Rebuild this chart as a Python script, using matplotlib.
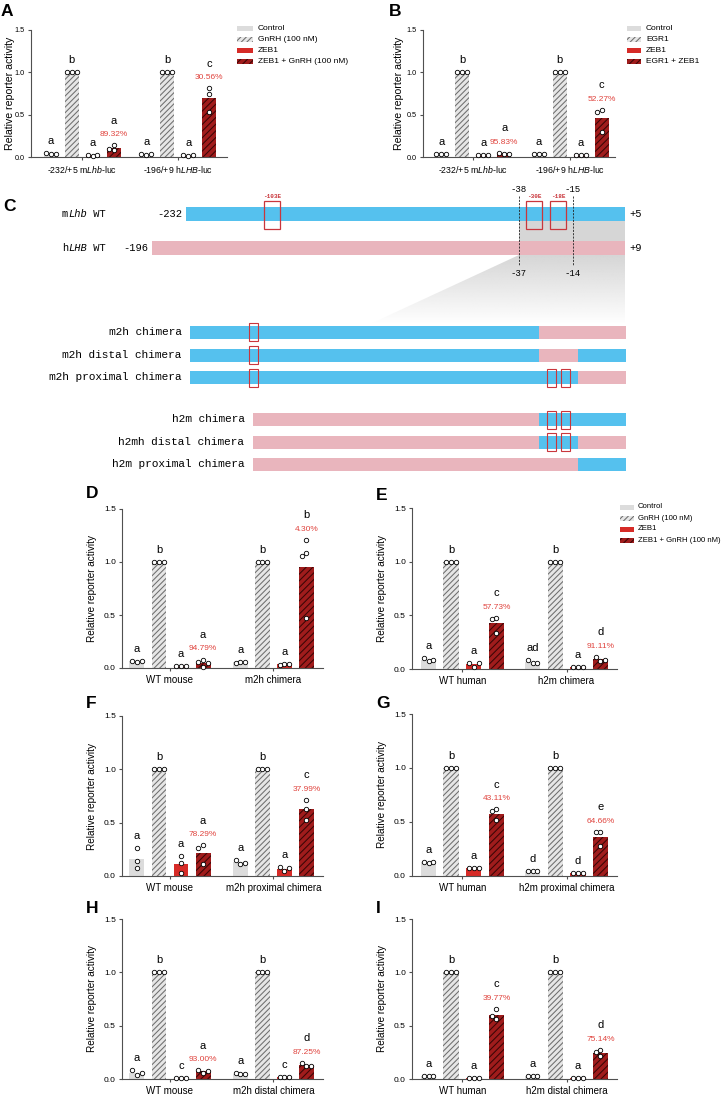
import numpy as np
import matplotlib
matplotlib.use("Agg")
import matplotlib.pyplot as plt
from matplotlib.patches import Rectangle, Polygon
from matplotlib.transforms import offset_copy
from matplotlib.colors import to_rgb

plt.rcParams['font.family'] = ['Liberation Sans', 'DejaVu Sans']
plt.rcParams['mathtext.fontset'] = 'custom'
plt.rcParams['mathtext.rm'] = 'Liberation Sans'
plt.rcParams['mathtext.it'] = 'Liberation Sans:italic'
plt.rcParams['hatch.linewidth'] = 0.75

W, H, DPI = 725, 1097, 100

# ---------------- data ----------------
treat_gnrh = ['Control', 'GnRH (100 nM)', 'ZEB1', 'ZEB1 + GnRH (100 nM)']
treat_egr = ['Control', 'EGR1', 'ZEB1', 'EGR1 + ZEB1']

# A
groups_a = [r'-232/+5 m$\mathit{Lhb}$-luc', r'-196/+9 h$\mathit{LHB}$-luc']
points_a = [[[0.03, 0.05, 0.04], [1, 1, 1], [0.015, 0.02, 0.02], [0.08, 0.14, 0.10]],
            [[0.02, 0.04, 0.04], [1, 1, 1], [0.01, 0.02, 0.02], [0.81, 0.74, 0.53]]]
letters_a = [['a', 'b', 'a', 'a'], ['a', 'b', 'a', 'c']]
pct_a = ['89.32%', '30.56%']

# B
groups_b = groups_a
points_b = [[[0.03, 0.03, 0.03], [1, 1, 1], [0.02, 0.02, 0.02], [0.04, 0.05, 0.04]],
            [[0.03, 0.03, 0.03], [1, 1, 1], [0.02, 0.02, 0.02], [0.56, 0.53, 0.30]]]
letters_b = [['a', 'b', 'a', 'a'], ['a', 'b', 'a', 'c']]
pct_b = ['95.83%', '52.27%']

# D
groups_d = ['WT mouse', 'm2h chimera']
points_d = [[[0.06, 0.065, 0.065], [1, 1, 1], [0.015, 0.015, 0.015], [0.08, 0.06, 0.045, 0.01]],
            [[0.054, 0.05, 0.056], [1, 1, 1], [0.035, 0.03, 0.035], [1.21, 1.085, 1.057, 0.467]]]
letters_d = [['a', 'b', 'a', 'a'], ['a', 'b', 'a', 'b']]
pct_d = ['94.79%', '4.30%']

# E
groups_e = ['WT human', 'h2m chimera']
points_e = [[[0.07, 0.10, 0.085], [1, 1, 1], [0.02, 0.06, 0.06], [0.475, 0.465, 0.335]],
            [[0.053, 0.085, 0.053], [1, 1, 1], [0.015, 0.02, 0.02], [0.078, 0.115, 0.085]]]
letters_e = [['a', 'b', 'a', 'c'], ['ad', 'b', 'a', 'd']]
pct_e = ['57.73%', '91.11%']

# F
groups_f = ['WT mouse', 'm2h proximal chimera']
points_f = [[[0.26, 0.14, 0.078], [1, 1, 1], [0.184, 0.122, 0.03], [0.29, 0.26, 0.11]],
            [[0.11, 0.15, 0.12], [1, 1, 1], [0.05, 0.08, 0.075], [0.716, 0.63, 0.528]]]
letters_f = [['a', 'b', 'a', 'a'], ['a', 'b', 'a', 'c']]
pct_f = ['78.29%', '37.99%']

# G
groups_g = ['WT human', 'h2m proximal chimera']
points_g = [[[0.12, 0.13, 0.13], [1, 1, 1], [0.078, 0.078, 0.078], [0.616, 0.60, 0.52]],
            [[0.047, 0.047, 0.047], [1, 1, 1], [0.028, 0.028, 0.028], [0.41, 0.403, 0.278]]]
letters_g = [['a', 'b', 'a', 'c'], ['d', 'b', 'd', 'e']]
pct_g = ['43.11%', '64.66%']

# H
groups_h = ['WT mouse', 'm2h distal chimera']
points_h = [[[0.04, 0.08, 0.06], [1, 1, 1], [0.01, 0.01, 0.01], [0.056, 0.08, 0.078]],
            [[0.047, 0.056, 0.047], [1, 1, 1], [0.016, 0.016, 0.016], [0.125, 0.15, 0.12]]]
letters_h = [['a', 'b', 'c', 'a'], ['a', 'b', 'c', 'd']]
pct_h = ['93.00%', '87.25%']

# I
groups_i = ['WT human', 'h2m distal chimera']
points_i = [[[0.025, 0.025, 0.025], [1, 1, 1], [0.01, 0.01, 0.01], [0.656, 0.5625, 0.594]],
            [[0.025, 0.025, 0.025], [1, 1, 1], [0.005, 0.005, 0.005], [0.275, 0.22, 0.25]]]
letters_i = [['a', 'b', 'a', 'c'], ['a', 'b', 'a', 'd']]
pct_i = ['39.77%', '75.14%']

# C schematic
wt_names = [[('m', False), ('Lhb', True), (' WT', False)],
            [('h', False), ('LHB', True), (' WT', False)]]
wt_start = ['-232', '-196']
wt_end = ['+5', '+9']
junction_top = ['-38', '-15']
junction_bot = ['-37', '-14']
ebox_names = ['-103E', '-30E', '-18E']
chimera_names = ['m2h chimera', 'm2h distal chimera', 'm2h proximal chimera',
                 'h2m chimera', 'h2mh distal chimera', 'h2m proximal chimera']
chimera_segments = [['m', 'h', 'h'], ['m', 'h', 'm'], ['m', 'm', 'h'],
                    ['h', 'm', 'm'], ['h', 'm', 'h'], ['h', 'h', 'm']]

# ---------------- styles ----------------
styles = [
    dict(facecolor='#dcdcdc', edgecolor='#dcdcdc', linewidth=0),
    dict(facecolor='#e6e6e6', edgecolor='#6e6e6e', hatch='//////', linewidth=0),
    dict(facecolor='#d62b27', edgecolor='#d62b27', linewidth=0),
    dict(facecolor='#a01c1c', edgecolor='#3a0606', hatch='/////', linewidth=0),
]
PCT_RED = '#e0443e'
AXC = '#505050'

fig = plt.figure(figsize=(W / DPI, H / DPI), dpi=DPI)


def px_axes(x0, y0, x1, y1):
    return fig.add_axes([x0 / W, 1 - y1 / H, (x1 - x0) / W, (y1 - y0) / H])


def swarm(vals, xpx, ypx, diam=4.4):
    step = 4.8 / xpx
    placed = []
    for v in vals:
        for k in [0, -1, 1, -2, 2]:
            if all(np.hypot((k * step - o) * xpx, (v - pv) * ypx) >= diam for o, pv in placed):
                break
        placed.append((k * step, v))
    return np.array([p[0] for p in placed])


def bar_panel(ax, points, letters, pcts, groups, xlim, g_off, lab_cx,
              tick_fs=6, group_fs=7, ylab_fs=7.2):
    ax.set_xlim(*xlim)
    ax.set_ylim(0, 1.5)
    pos = ax.get_position()
    wpx, hpx = pos.width * W, pos.height * H
    xpx = wpx / (xlim[1] - xlim[0])
    ypx = hpx / 1.5
    for gi, grp in enumerate(points):
        for ti, vals in enumerate(grp):
            x = gi * g_off + ti
            vals = np.array(vals, dtype=float)
            m = vals.mean()
            ax.bar(x, m, width=0.68, zorder=2, **styles[ti])
            offs = swarm(vals, xpx, ypx)
            ax.plot(x + offs, vals, 'o', ms=3.2, mfc='white', mec='black', mew=0.6,
                    zorder=3, clip_on=False)
            top = max(vals.max(), m)
            if ti == 3:
                ax.annotate(pcts[gi], (x, top), xytext=(0, 6.5), textcoords='offset points',
                            ha='center', va='baseline', fontsize=6, color=PCT_RED)
                ax.annotate(letters[gi][ti], (x, top), xytext=(0, 15.5), textcoords='offset points',
                            ha='center', va='baseline', fontsize=8)
            else:
                ax.annotate(letters[gi][ti], (x, top), xytext=(0, 6.5), textcoords='offset points',
                            ha='center', va='baseline', fontsize=8)
    for s in ['top', 'right']:
        ax.spines[s].set_visible(False)
    for s in ['left', 'bottom']:
        ax.spines[s].set_color(AXC)
        ax.spines[s].set_linewidth(0.8)
    ax.set_yticks([0, 0.5, 1.0, 1.5])
    ax.set_yticklabels(['0.0', '0.5', '1.0', '1.5'])
    ax.set_xticks([1.5, g_off + 1.5])
    ax.set_xticklabels(groups)
    ax.tick_params(axis='y', length=2.5, width=0.8, color=AXC, labelsize=tick_fs, pad=2)
    ax.tick_params(axis='x', length=2.5, width=0.8, color=AXC, labelsize=group_fs, pad=2.5)
    ax.set_ylabel('Relative reporter activity', fontsize=ylab_fs)
    x0 = pos.x0 * W
    ax.yaxis.set_label_coords((lab_cx + 5 - x0) / wpx, 0.5)


# ---------------- bar panels ----------------
ax_a = px_axes(31, 30, 227, 157)
bar_panel(ax_a, points_a, letters_a, pct_a, groups_a, (-0.94, 8.4), 4.55, 10,
          tick_fs=5.2, group_fs=6.3, ylab_fs=7.6)
ax_b = px_axes(423, 30, 615, 157)
bar_panel(ax_b, points_b, letters_b, pct_b, groups_b, (-0.87, 8.27), 4.64, 399,
          tick_fs=5.2, group_fs=6.3, ylab_fs=7.6)

ax_d = px_axes(122, 509, 323, 668)
bar_panel(ax_d, points_d, letters_d, pct_d, groups_d, (-0.68, 8.45), 4.7, 92)
ax_e = px_axes(412, 508, 617, 669)
bar_panel(ax_e, points_e, letters_e, pct_e, groups_e, (-0.73, 8.33), 4.6, 382)
ax_f = px_axes(122, 716, 323, 876)
bar_panel(ax_f, points_f, letters_f, pct_f, groups_f, (-0.68, 8.45), 4.7, 92)
ax_g = px_axes(412, 714, 617, 876)
bar_panel(ax_g, points_g, letters_g, pct_g, groups_g, (-0.73, 8.33), 4.6, 382)
ax_h = px_axes(122, 919, 323, 1079)
bar_panel(ax_h, points_h, letters_h, pct_h, groups_h, (-0.68, 8.45), 4.7, 92)
ax_i = px_axes(412, 919, 617, 1079)
bar_panel(ax_i, points_i, letters_i, pct_i, groups_i, (-0.73, 8.33), 4.6, 382)

# ---------------- overlay (schematic, legends, labels) ----------------
ov = fig.add_axes([0, 0, 1, 1], zorder=-1)
ov.axis('off')


def legend(x, y0, dy, pw, labels, fs=6, gap=5):
    for i, lab in enumerate(labels):
        y = y0 + i * dy
        ov.add_patch(Rectangle((x, y - 2.5), pw, 5, **styles[i]))
        ov.text(x + pw + gap, y, lab, va='center', ha='left', fontsize=fs)


legend(237, 28, 11.3, 16, treat_gnrh)
legend(627, 28, 11.3, 14, treat_egr)
legend(620, 507, 11, 14, treat_gnrh, fs=5.6, gap=4)

for lab, (x, y) in zip('ABCDEFGHI', [(1, 4), (389, 4), (3, 199), (86, 486), (376, 488),
                                      (86, 696), (376, 696), (86, 901), (376, 901)]):
    ov.text(x, y, lab, fontsize=12.5, fontweight='bold', va='top', ha='left')

BLUE = '#55c1ee'
PINK = '#e9b5bd'
BOXRED = '#c9363c'
SHADE = '#d6d6d6'
seg_color = {'m': BLUE, 'h': PINK}
MONO = 'Liberation Mono'


def mono_text(x, y, parts, fs, ha='left', color='black', weight='normal'):
    total = sum(len(t) for t, _ in parts)
    cw = 0.6 * fs
    start = {'left': 0, 'right': -total * cw, 'center': -total * cw / 2}[ha]
    n = 0
    for t, it in parts:
        tr = offset_copy(ov.transData, fig=fig, x=start + n * cw, y=0, units='points')
        ov.text(x, y, t, transform=tr, family=MONO, style='italic' if it else 'normal',
                fontsize=fs, va='center', ha='left', color=color, fontweight=weight)
        n += len(t)


# WT promoters
wt_span = [(186, 625), (152, 625)]
wt_y = [214, 248]
for i in range(2):
    x0, x1 = wt_span[i]
    ov.add_patch(Rectangle((x0, wt_y[i] - 7), x1 - x0, 14, facecolor=[BLUE, PINK][i], lw=0, zorder=2))
    mono_text(62, wt_y[i], wt_names[i], 7.5)
    mono_text(x0 - 4, wt_y[i], [(wt_start[i], False)], 7.5, ha='right')
    mono_text(629, wt_y[i], [(wt_end[i], False)], 7.5)

jx = [519, 573]
ov.add_patch(Rectangle((jx[0], 221), 625 - jx[0], 20, facecolor=SHADE, lw=0, zorder=1))
grad = np.zeros((64, 1, 4))
grad[..., :3] = to_rgb(SHADE)
grad[:, 0, 3] = np.linspace(1, 0, 64)
fan = Polygon([(jx[0], 255), (625, 255), (625, 324), (370, 324)], closed=True,
              facecolor='none', edgecolor='none', transform=ov.transData)
ov.add_patch(fan)
im = ov.imshow(grad, extent=(370, 625, 324, 255), origin='upper', aspect='auto',
               interpolation='bilinear', zorder=0)
im.set_clip_path(fan)

for k in range(2):
    ov.plot([jx[k], jx[k]], [196, 266], color='#222222', lw=0.6, ls=(0, (2.5, 1.5)), zorder=3)
    mono_text(jx[k], 190, [(junction_top[k], False)], 6.5, ha='center')
    mono_text(jx[k], 273, [(junction_bot[k], False)], 6.5, ha='center')

ebox_x = [272, 534.5, 558]
for name, cx in zip(ebox_names, ebox_x):
    ov.add_patch(Rectangle((cx - 8, 201), 16, 28, fill=False, ec=BOXRED, lw=0.9, zorder=4))
    ov.text(cx, 197, name, ha='center', va='center', fontsize=4.3, color=BOXRED,
            fontweight='bold', family=MONO)

# chimeras
chim_y = [332, 355, 377.5, 419.5, 442, 464]
for name, segs, y in zip(chimera_names, chimera_segments, chim_y):
    left = 190.5 if segs[0] == 'm' else 253
    bounds = [left, 539, 578.5, 626]
    for s in range(3):
        ov.add_patch(Rectangle((bounds[s], y - 6.5), bounds[s + 1] - bounds[s], 13,
                               facecolor=seg_color[segs[s]], lw=0, zorder=2))
    mono_text(left - 8, y, [(name, False)], 8, ha='right')
    boxes = []
    if segs[0] == 'm':
        boxes.append(253.5)
    if segs[1] == 'm':
        boxes += [551.5, 566]
    for cx in boxes:
        ov.add_patch(Rectangle((cx - 4.5, y - 9), 9, 18, fill=False, ec=BOXRED, lw=0.8, zorder=4))

ov.set_xlim(0, W)
ov.set_ylim(H, 0)

fig.savefig('out.png', dpi=DPI)
